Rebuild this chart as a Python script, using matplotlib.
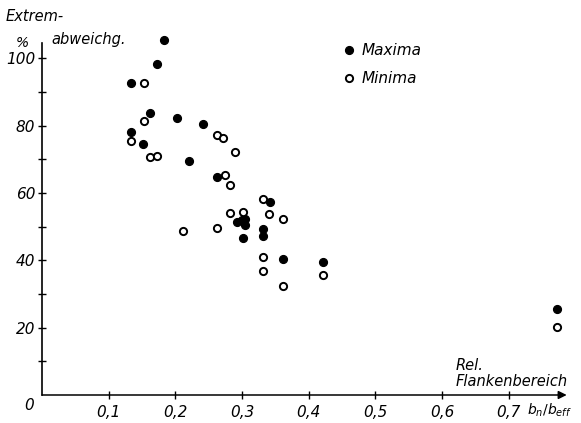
import numpy as np
import matplotlib.pyplot as plt
from matplotlib.ticker import FixedLocator

# Maxima (filled dots)
max_x = [0.183, 0.173, 0.133, 0.162, 0.202, 0.242, 0.134, 0.151, 0.221, 0.262,
         0.342, 0.293, 0.300, 0.305, 0.305, 0.301, 0.332, 0.332, 0.361, 0.421, 0.772]
max_y = [105.5, 98.3, 92.6, 83.7, 82.2, 80.4, 78.0, 74.5, 69.6, 64.7,
         57.3, 51.5, 51.9, 52.3, 50.4, 46.6, 49.3, 47.3, 40.4, 39.5, 25.4]

# Minima (open circles)
min_x = [0.153, 0.153, 0.134, 0.162, 0.173, 0.262, 0.272, 0.289, 0.274, 0.282,
         0.331, 0.282, 0.301, 0.341, 0.361, 0.262, 0.211, 0.332, 0.332, 0.362,
         0.421, 0.772]
min_y = [92.5, 81.3, 75.4, 70.7, 70.9, 77.2, 76.4, 72.2, 65.3, 62.3,
         58.3, 53.9, 54.4, 53.7, 52.2, 49.6, 48.7, 41.1, 36.7, 32.4,
         35.6, 20.1]

x_ticks = [0.1, 0.2, 0.3, 0.4, 0.5, 0.6, 0.7]
x_labels = ["0,1", "0,2", "0,3", "0,4", "0,5", "0,6", "0,7"]
y_ticks = [20, 40, 60, 80, 100]
y_minor = [10, 30, 50, 70, 90]

plt.rcParams['font.family'] = ['DejaVu Sans']
fig = plt.figure(figsize=(5.81, 4.23), dpi=100)
ax = fig.add_axes([0.0723, 0.0662, 0.918, 0.876])
ax.set_xlim(0, 0.8)
ax.set_ylim(0, 110)

for s in ['top', 'right', 'bottom']:
    ax.spines[s].set_visible(False)
ax.spines['left'].set_bounds(0, 104.5)
ax.spines['left'].set_linewidth(1.2)

# x axis with arrow
ax.annotate('', xy=(0.787, 0), xytext=(0, 0), xycoords='data',
            arrowprops=dict(arrowstyle='-|>', lw=1.1, color='black',
                            mutation_scale=12, shrinkA=0, shrinkB=0),
            annotation_clip=False)

ax.plot(max_x, max_y, 'o', color='black', markersize=5.6, linestyle='none', clip_on=False)
ax.plot(min_x, min_y, 'o', markerfacecolor='white', markeredgecolor='black',
        markeredgewidth=1.4, markersize=5.2, linestyle='none', clip_on=False)

tick_font = dict(fontsize=11, style='italic')
ax.set_xticks(x_ticks)
ax.set_xticklabels(x_labels, **tick_font)
ax.set_yticks(y_ticks)
ax.set_yticklabels([str(v) for v in y_ticks], **tick_font)
ax.yaxis.set_minor_locator(FixedLocator(y_minor))
ax.tick_params(axis='both', which='both', direction='inout', length=6, width=1, pad=2)
ax.tick_params(axis='x', pad=4)

# origin label
ax.text(-0.012, -3, "0", fontsize=11, style='italic', ha='right', va='center')

# axis titles
ax.text(-0.055, 112.5, "Extrem-", fontsize=10.5, style='italic', ha='left', va='center',
        clip_on=False)
ax.text(0.014, 105.5, "abweichg.", fontsize=10.5, style='italic', ha='left', va='center',
        clip_on=False)
ax.text(-0.03, 104.5, "%", fontsize=10, style='italic', ha='center', va='center',
        clip_on=False)
ax.text(0.62, 8.9, "Rel.", fontsize=10.5, style='italic', ha='left', va='center')
ax.text(0.62, 3.9, "Flankenbereich", fontsize=10.5, style='italic', ha='left', va='center')
ax.text(0.728, -4.5, r"$b_n/b_{eff}$", fontsize=10, ha='left', va='center')

# legend
ax.plot([0.46], [102.4], 'o', color='black', markersize=5.6, clip_on=False)
ax.text(0.48, 102.4, "Maxima", fontsize=11, style='italic', ha='left', va='center')
ax.plot([0.46], [94.0], 'o', markerfacecolor='white', markeredgecolor='black',
        markeredgewidth=1.4, markersize=5.2, clip_on=False)
ax.text(0.48, 94.0, "Minima", fontsize=11, style='italic', ha='left', va='center')

fig.savefig("out.png", dpi=100)
